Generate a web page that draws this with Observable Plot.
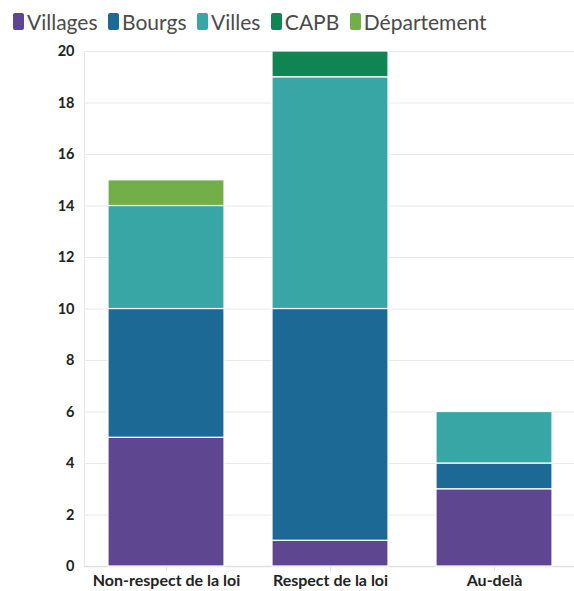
<!DOCTYPE html>
<html>
<head>
<meta charset="utf-8">
<script src="https://cdn.jsdelivr.net/npm/d3@7"></script>
<script src="https://cdn.jsdelivr.net/npm/@observablehq/plot@0.6"></script>
<style>
  html, body { margin: 0; padding: 0; background: #fff; overflow: hidden; }
  body { width: 574px; font-family: Lato, "Noto Sans", sans-serif; }
  #legend { height: 40px; display: flex; align-items: center; padding-left: 13px; gap: 10.5px; font-size: 21px; color: #4a4a4a; padding-top: 2px; box-sizing: border-box; }
  .item { display: flex; align-items: center; gap: 3px; }
  .sw { width: 11px; height: 17px; border-radius: 2px; display: inline-block; }
  #chart svg { display: block; max-width: none !important; }
</style>
</head>
<body>
<div id="legend"></div>
<div id="chart"></div>
<script>
const categories = ["Non-respect de la loi", "Respect de la loi", "Au-delà"];
const series = ["Villages", "Bourgs", "Villes", "CAPB", "Département"];
const colors = ["#5F4690", "#1D6996", "#38A6A5", "#0F8554", "#73AF48"];
const villages = [5, 1, 3];
const bourgs = [5, 9, 1];
const villes = [4, 9, 2];
const capb = [0, 1, 0];
const departement = [1, 0, 0];
const yTicks = [0, 2, 4, 6, 8, 10, 12, 14, 16, 18, 20];

const valuesBySeries = [villages, bourgs, villes, capb, departement];
const data = [];
series.forEach((s, i) => categories.forEach((c, j) => {
  data.push({category: c, series: s, value: valuesBySeries[i][j]});
}));

const legend = document.getElementById("legend");
series.forEach((s, i) => {
  const it = document.createElement("div");
  it.className = "item";
  it.innerHTML = `<span class="sw" style="background:${colors[i]}"></span><span>${s}</span>`;
  legend.appendChild(it);
});

const chart = Plot.plot({
  width: 576,
  height: 551,
  marginLeft: 84,
  marginRight: 0,
  marginTop: 11,
  marginBottom: 25,
  style: {fontFamily: "Lato, 'Noto Sans', sans-serif", fontSize: "14px", color: "#222", background: "#fff", maxWidth: "none"},
  x: {domain: categories, paddingInner: 0.293, paddingOuter: 0.146, label: null},
  y: {domain: [0, 20], label: null},
  color: {domain: series, range: colors},
  marks: [
    Plot.gridY(yTicks, {stroke: "#e8e8e8", strokeOpacity: 1}),
    Plot.frame({anchor: "left", stroke: "#e8e8e8"}),
    Plot.ruleY([0], {stroke: "#e0e0e0", strokeWidth: 1.5}),
    Plot.axisY(yTicks, {tickSize: 0, tickPadding: 10, fontWeight: "bold", fill: "#222", fontSize: 14.5, label: null}),
    Plot.axisX({tickSize: 5, stroke: "#e0e0e0", tickPadding: 3, fontWeight: "bold", fill: "#222", fontSize: 16, label: null}),
    Plot.barY(data, Plot.stackY({order: series}, {x: "category", y: "value", fill: "series", stroke: "#fff", strokeWidth: 1.2, filter: d => d.value > 0}))
  ]
});
document.getElementById("chart").appendChild(chart);
</script>
</body>
</html>
